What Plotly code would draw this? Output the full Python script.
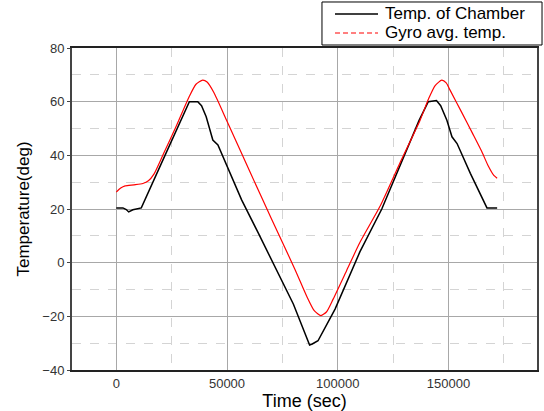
import plotly.graph_objects as go

# Datos
t_chamber = [0, 3000, 4500, 5600, 7500, 9500, 11300, 22000, 33000, 36800, 38500, 40600,
             42100, 43600, 45900, 50000, 56600, 64100, 71600, 80000, 87300, 88500, 91100,
             98800, 110000, 119900, 136800, 140900, 144600, 146500, 149300, 151600, 153900,
             159900, 167400, 172000]
temp_chamber = [20.4, 20.4, 19.8, 18.9, 19.7, 20.0, 20.4, 40.0, 60.0, 60.0, 58.5, 54.4,
                49.5, 45.7, 43.9, 35.8, 23.4, 11.1, -1.3, -15.5, -30.7, -30.3, -29.1,
                -17.3, 4.0, 20.0, 53.1, 60.0, 60.4, 58.5, 53.1, 46.9, 44.4,
                33.3, 20.4, 20.4]

t_gyro = [0, 2000, 4000, 8000, 12000, 14500, 17000, 21000, 27000, 33000, 36000, 39000,
          41000, 44000, 49800, 60000, 70000, 80700, 86000, 89500, 92400, 95000, 98000,
          104000, 110000, 119100, 128000, 137200, 141000, 144000, 147000, 149000, 150800,
          156000, 161000, 165000, 168000, 170500, 172000]
temp_gyro = [26.3, 27.8, 28.6, 29.0, 29.5, 30.5, 33.0, 40.0, 50.7, 62.0, 66.5, 68.0,
             67.3, 63.5, 53.1, 34.5, 16.5, -2.5, -12.5, -18.0, -19.7, -18.3, -13.5,
             -3.0, 7.5, 21.0, 37.0, 53.1, 61.0, 66.0, 68.0, 67.0, 64.2,
             56.0, 48.0, 41.5, 36.0, 32.5, 31.5]

legend_names = ["Temp. of Chamber", "Gyro avg. temp."]

fig = go.Figure()

# Curva de la camara
fig.add_trace(go.Scatter(x=t_chamber, y=temp_chamber, mode="lines", showlegend=False,
                         line=dict(color="black", width=1.5), name=legend_names[0]))
# Curva del giroscopio (solida en la grafica)
fig.add_trace(go.Scatter(x=t_gyro, y=temp_gyro, mode="lines", showlegend=False,
                         line=dict(color="red", width=1.2, shape="spline", smoothing=0.6),
                         name=legend_names[1]))

# Leyenda dibujada a mano (mas compacta que la nativa), arriba a la derecha
fig.add_shape(type="rect", xref="paper", yref="paper", x0=0.5376, x1=1.0108,
              y0=1.0093, y1=1.1429, line=dict(color="black", width=1), fillcolor="white")
fig.add_shape(type="line", xref="paper", yref="paper", x0=0.5656, x1=0.6581,
              y0=1.1056, y1=1.1056, line=dict(color="black", width=1.5))
fig.add_shape(type="line", xref="paper", yref="paper", x0=0.5656, x1=0.6581,
              y0=1.0466, y1=1.0466, line=dict(color="red", width=1.2, dash="5px,3px"))
for name, yy in zip(legend_names, [1.1056, 1.0466]):
    fig.add_annotation(text=name, xref="paper", yref="paper", x=0.6688, y=yy,
                       xanchor="left", yanchor="middle", showarrow=False,
                       font=dict(size=17, color="black"))

fig.update_layout(
    width=544, height=411,
    margin=dict(l=72, r=7, t=48, b=41, autoexpand=False),
    paper_bgcolor="white", plot_bgcolor="white",
    font=dict(family="Liberation Sans, Arial", size=13, color="#333333"),
    showlegend=False,
)

fig.update_xaxes(
    range=[-20000, 190000], tick0=0, dtick=50000, tickformat="d", automargin=False,
    showgrid=True, gridcolor="#a8a8a8", gridwidth=1,
    minor=dict(dtick=25000, tick0=0, showgrid=True, gridcolor="#d4d4d4", griddash="dash"),
    zeroline=False, showline=True, linecolor="#222222", linewidth=2, mirror=True,
    ticks="", title=dict(text="Time (sec)", font=dict(size=18, color="black"), standoff=2),
)
fig.update_yaxes(
    range=[-40, 80], tick0=0, dtick=20, automargin=False,
    showgrid=True, gridcolor="#a8a8a8", gridwidth=1,
    minor=dict(dtick=10, tick0=0, showgrid=True, gridcolor="#d4d4d4", griddash="dash"),
    zeroline=False, showline=True, linecolor="#444444", linewidth=2, mirror=True,
    ticks="outside", ticklen=3, tickcolor="#444444",
    title=dict(text="Temperature(deg)", font=dict(size=17, color="black"), standoff=8),
)

# Quitar el margen del body para que la figura empiece en (0, 0)
fig.write_html("out.html", config={"displayModeBar": False},
               post_script="document.body.style.margin='0';")
